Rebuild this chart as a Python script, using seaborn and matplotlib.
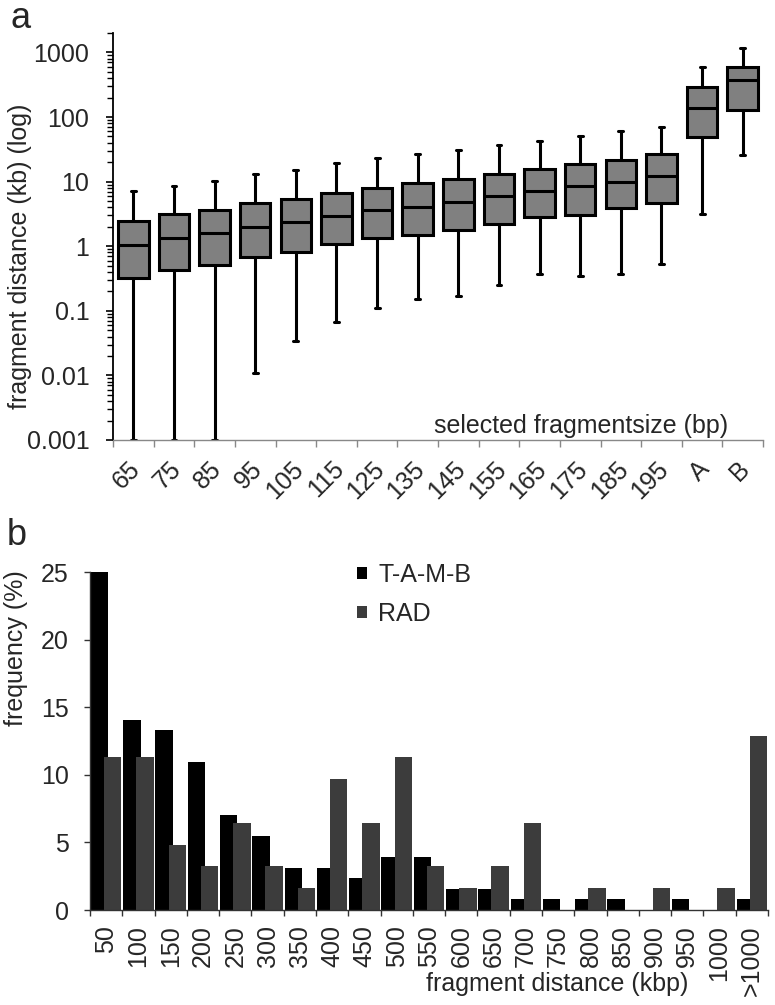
import numpy as np
import pandas as pd
import matplotlib
matplotlib.use('Agg')
import matplotlib.pyplot as plt
import matplotlib.ticker as mticker
from matplotlib.transforms import ScaledTranslation
import seaborn as sns

sns.set_style('ticks')
plt.rcParams['font.family'] = ['Liberation Sans', 'DejaVu Sans']
plt.rcParams['font.size'] = 18

# panel a: fragment distance (kb) per selected fragment size, box stats
size_labels = ['65', '75', '85', '95', '105', '115', '125', '135', '145', '155',
               '165', '175', '185', '195', 'A', 'B']
whisker_lo = [0.001, 0.001, 0.001, 0.011, 0.034, 0.068, 0.11, 0.15, 0.17, 0.25,
              0.37, 0.34, 0.37, 0.54, 3.1, 26]
q1 = [0.32, 0.43, 0.51, 0.67, 0.81, 1.07, 1.36, 1.5, 1.79, 2.22, 2.8, 3.0, 3.94, 4.67, 49, 127]
median = [1.05, 1.33, 1.62, 1.97, 2.33, 2.97, 3.58, 4.04, 4.89, 5.9, 7.1, 8.7, 10, 12.4, 140, 376]
q3 = [2.5, 3.1, 3.7, 4.6, 5.4, 6.7, 8.0, 9.5, 11, 13.3, 15.6, 18.6, 22, 26.9, 292, 605]
whisker_hi = [7.1, 8.7, 10.1, 13.3, 15.4, 19.5, 23, 26.9, 30.7, 37, 41.9, 50, 59.8, 70.8, 605, 1154]

# panel b: frequency (%) of fragment distances
dist_labels = ['50', '100', '150', '200', '250', '300', '350', '400', '450', '500', '550',
               '600', '650', '700', '750', '800', '850', '900', '950', '1000', '>1000']
tamb_freq = [25.0, 14.06, 13.28, 10.94, 7.03, 5.47, 3.13, 3.13, 2.34, 3.91, 3.91,
             1.56, 1.56, 0.78, 0.78, 0.78, 0.78, 0, 0.78, 0, 0.78]
rad_freq = [11.29, 11.29, 4.84, 3.23, 6.45, 3.23, 1.61, 9.68, 6.45, 11.29, 3.23,
            1.61, 3.23, 6.45, 0, 1.61, 0, 1.61, 0, 1.61, 12.90]

W, H = 775, 1005
fig = plt.figure(figsize=(W / 100, H / 100), dpi=100)


def px_axes(left, top, right, bottom):
    return fig.add_axes([left / W, 1 - bottom / H, (right - left) / W, (bottom - top) / H])


def px_shift(dx, dy=0):
    return ScaledTranslation(dx / 100, -dy / 100, fig.dpi_scale_trans)


# ---- panel a ----
ax1 = px_axes(113, 33, 763, 440)
box_df = pd.DataFrame({
    'size': np.repeat(size_labels, 5),
    'dist': np.column_stack([whisker_lo, q1, median, q3, whisker_hi]).ravel(),
})
sns.boxplot(data=box_df, x='size', y='dist', ax=ax1, whis=(0, 100), width=0.75,
            color='#808080', saturation=1, linecolor='black', linewidth=2.2,
            log_scale=(False, True), capwidths=0.12, showfliers=False)
ax1.set_ylim(0.001, 2000)
ax1.set_xlim(-0.5, len(size_labels) - 0.5)
ax1.yaxis.set_major_locator(mticker.FixedLocator([1e-3, 1e-2, 0.1, 1, 10, 100, 1000]))
ax1.yaxis.set_major_formatter(mticker.FuncFormatter(lambda v, p: f'{v:g}'))
ax1.yaxis.set_minor_locator(mticker.LogLocator(base=10, subs=np.arange(2, 10), numticks=30))
ax1.yaxis.set_minor_formatter(mticker.NullFormatter())
ax1.tick_params(axis='y', which='major', length=5, width=1.2, pad=12, labelsize=18, color='black')
ax1.tick_params(axis='y', which='minor', length=4, width=1, color='black')

ax1.set_xticks(range(len(size_labels)))
ax1.set_xticklabels(size_labels, rotation=45, ha='right', va='top', rotation_mode='anchor')
ax1.set_xticks(np.arange(-0.5, len(size_labels)), minor=True)
ax1.tick_params(axis='x', which='major', length=0, pad=12, labelsize=18)
ax1.tick_params(axis='x', which='minor', length=5, width=1, color='#888888')
for lab in ax1.get_xticklabels():
    lab.set_transform(lab.get_transform() + px_shift(-5))

sns.despine(ax=ax1)
ax1.spines['left'].set_linewidth(1.3)
ax1.spines['left'].set_color('black')
ax1.spines['bottom'].set_linewidth(1)
ax1.spines['bottom'].set_color('#888888')
ax1.set_xlabel('')
ax1.set_ylabel('fragment distance (kb) (log)', fontsize=18)
ax1.yaxis.set_label_coords(-0.125, 0.451)
fig.text(728 / W, 1 - 433 / H, 'selected fragmentsize (bp)', ha='right', va='baseline', fontsize=18)
fig.text(10 / W, 1 - 28 / H, 'a', ha='left', va='baseline', fontsize=26)

# ---- panel b ----
ax2 = px_axes(90, 572, 768, 910)
bar_df = pd.DataFrame({
    'bin': dist_labels * 2,
    'method': ['T-A-M-B'] * len(dist_labels) + ['RAD'] * len(dist_labels),
    'freq': tamb_freq + rad_freq,
})
sns.barplot(data=bar_df, x='bin', y='freq', hue='method', ax=ax2,
            palette={'T-A-M-B': '#000000', 'RAD': '#3c3c3c'}, saturation=1,
            width=0.8, linewidth=0, errorbar=None)
# Excel-like overlapping bars
for container, off in zip(ax2.containers, [-0.205, 0.205]):
    for bar in container:
        center = round(bar.get_x() + bar.get_width() / 2)
        bar.set_width(0.54)
        bar.set_x(center + off - 0.27)

ax2.set_ylim(0, 25)
ax2.set_xlim(-0.5, len(dist_labels) - 0.5)
ax2.set_yticks(range(0, 26, 5))
ax2.tick_params(axis='y', which='major', length=4.3, width=1, pad=11, labelsize=18, color='#333333')
ax2.set_xticks(range(len(dist_labels)))
ax2.set_xticklabels(dist_labels, rotation=90)
ax2.set_xticks(np.arange(-0.5, len(dist_labels)), minor=True)
ax2.tick_params(axis='x', which='major', length=0, pad=11, labelsize=18)
ax2.tick_params(axis='x', which='minor', length=4.3, width=1, color='#333333')
sns.despine(ax=ax2)
for side in ['left', 'bottom']:
    ax2.spines[side].set_linewidth(1)
    ax2.spines[side].set_color('#333333')
ax2.set_xlabel('')
ax2.set_ylabel('frequency (%)', fontsize=18)
ax2.yaxis.set_label_coords(-0.091, 0.774)
sns.move_legend(ax2, 'upper left', bbox_to_anchor=(357 / W, 1 - 563 / H),
                bbox_transform=fig.transFigure, title=None, frameon=False,
                handlelength=0.4, handleheight=0.4, handletextpad=0.45,
                labelspacing=0.6, borderpad=0, borderaxespad=0, fontsize=18)
fig.text(688 / W, 1 - 991 / H, 'fragment distance (kbp)', ha='right', va='baseline', fontsize=18)
fig.text(7 / W, 1 - 545 / H, 'b', ha='left', va='baseline', fontsize=26)

fig.savefig('out.png', dpi=100)
